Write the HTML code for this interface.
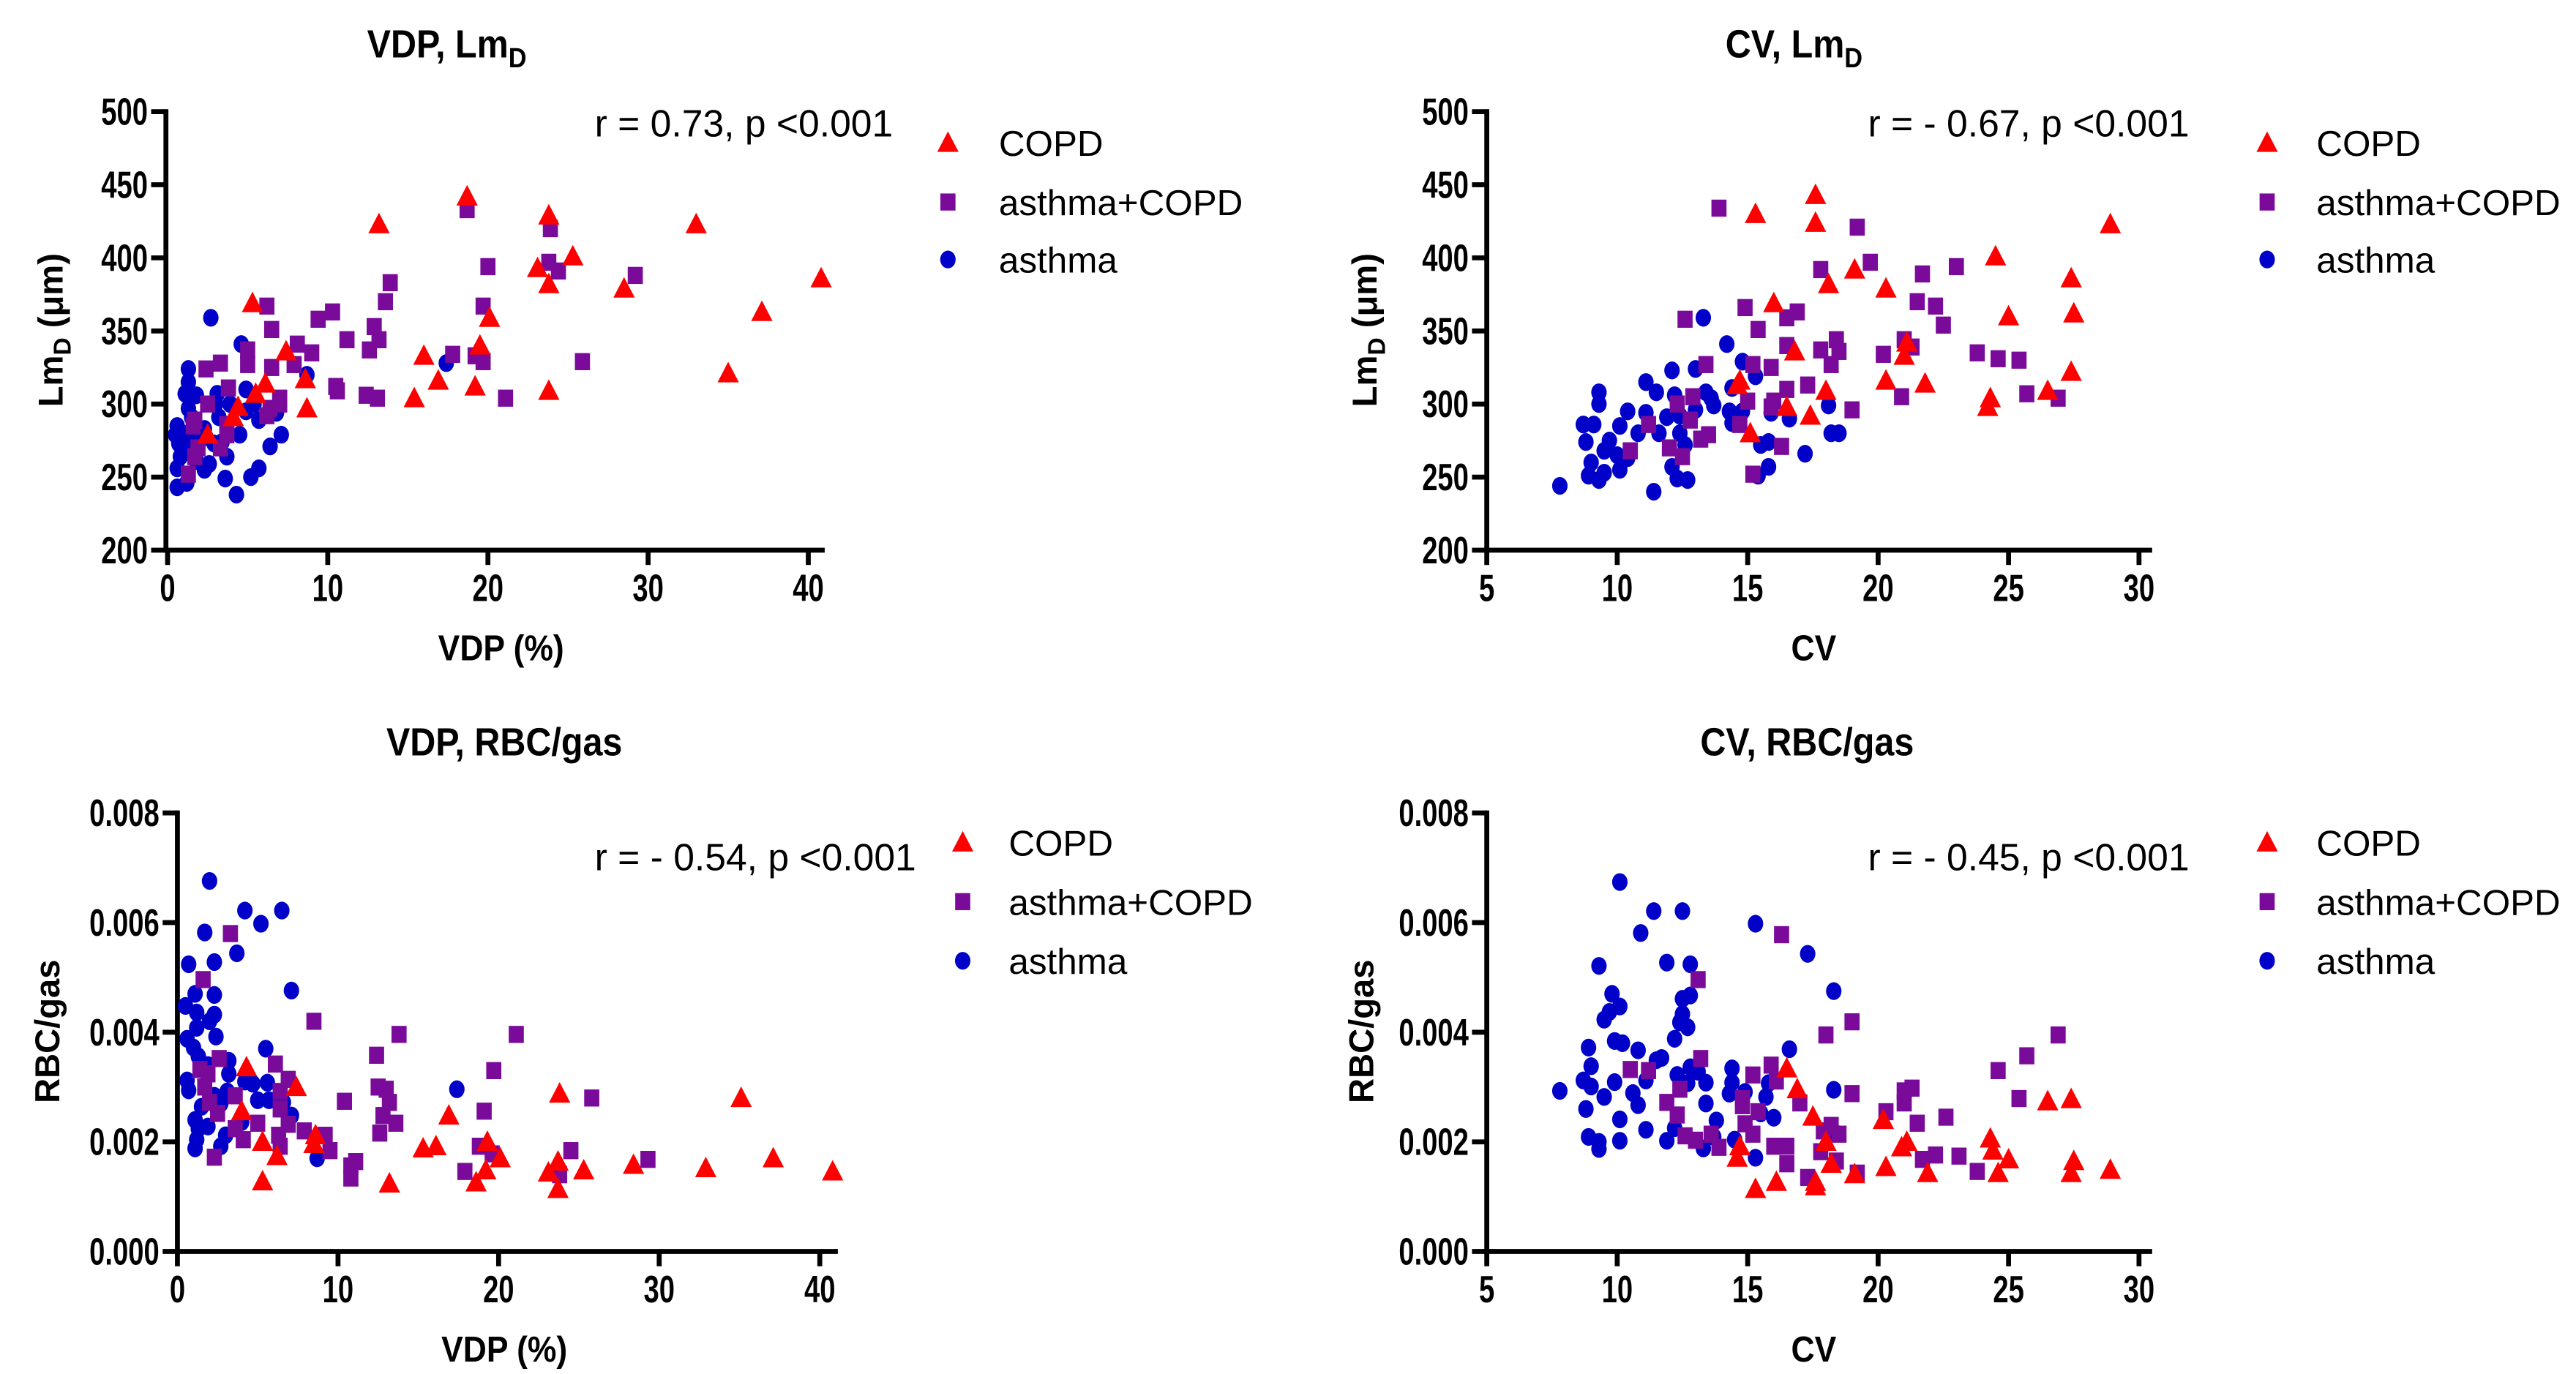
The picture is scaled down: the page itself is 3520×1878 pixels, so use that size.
<!DOCTYPE html>
<html><head><meta charset="utf-8"><style>
html,body{margin:0;padding:0;background:#fff}
svg{display:block}
text{font-family:"Liberation Sans",sans-serif}
</style></head><body>
<svg id="fig" width="3520" height="1878" viewBox="0 0 1568 836.6" preserveAspectRatio="none" xmlns="http://www.w3.org/2000/svg"></svg>
<script>
// ---------- DATA ----------
const p1CopdX=[18.7,23.8,13.2,33,25.3,23.1,23.8,40.8,28.5,37.1,5.3,20.1,19.5,7.4,16,16.9,8.6,35,19.2,6.1,23.8,15.4,5.5,8.7,4.4,4.1,2.5];
const p1CopdY=[442,429,423,423,401,393,382,386,379,363,369,359,340,336,333,316,317,321,312,314,309,304,307,297,298,291,279];
const p1MixX=[18.7,23.9,23.8,24.4,20,29.2,13.9,13.6,19.7,6.2,10.3,9.4,6.5,12.9,13.2,11.2,8.1,9,5,17.8,19.2,19.7,25.9,5,6.5,7.9,3.3,2.4,12.6,10.5,10.6,12.4,13.1,21.1,7,7,6.4,6.2,3.8,2.5,1.7,1.6,1.9,3.3,1.7,1.3,3.7,3.7];
const p1MixY=[433,420,397,391,394,388,383,370,367,367,363,358,351,353,344,344,341,335,337,334,333,329,329,327,325,327,328,324,337,312,309,306,304,304,304,300,297,292,311,300,289,285,270,270,264,252,279,286];
const p1AsX=[2.7,4.6,17.4,8.7,1.3,1.3,1.1,1.8,3.1,4.9,3.9,4.9,5.7,6.8,4.5,7.1,6.4,0.6,0.5,0.7,1.1,0.6,0.6,1.2,2.3,2.6,3.6,4.3,5.2,5.7,3.7,1.8,2.1,2.9,1.3,1.5,2.3,0.9,3.2,3,5.4,1.3,1.7,0.8,3.4];
const p1AsY=[359,341,328,320,324,315,307,306,307,310,300,295,289,294,279,279,271,285,279,273,267,256,243,246,255,259,249,238,250,256,264,261,276,273,297,291,283,276,291,300,300,280,276,264,274];
const p2CopdX=[17.6,15.3,17.6,28.9,24.5,19.1,27.4,18.1,20.3,16,27.5,25,16.8,21.1,21,27.4,20.3,14.7,21.8,18,24.3,24.2,16.5,26.5,17.4,15.1,14.6];
const p2CopdY=[443,430,424,423,401,392,386,382,379,369,362,360,336,342,333,322,316,316,314,309,304,298,298,309,292,280,313];
const p2MixX=[13.9,19.2,19.7,23,17.8,21.7,21.5,22.2,14.9,16.9,16.5,12.6,22.5,15.4,16.5,18.4,21,21.3,17.8,18.5,20.2,23.8,24.6,25.4,13.4,15.2,15.9,18.2,17.3,16.5,20.9,25.7,26.9,12.9,12.3,15,16,15.9,19,12.8,11.2,14.7,13.5,13.2,12,16.3,10.5,12.5,15.2];
const p2MixY=[434,421,397,394,392,389,370,367,366,363,359,358,354,351,340,344,344,339,337,336,334,335,331,330,327,327,325,327,313,310,305,307,304,305,300,302,302,298,296,289,286,286,279,276,270,271,268,264,252];
const p2AsX=[13.3,14.2,14.8,12.1,13,15.3,11.1,11.5,9.3,9.3,12.2,13.4,13.6,13.7,14.4,14.3,14.8,13,10.4,11.1,11.9,12.4,15.9,16.6,18.1,8.7,9.1,10.1,14.4,10.8,11.6,12.4,9.7,8.8,9.5,10,10.4,12.6,15.5,15.8,18.2,18.5,17.2,9,8.9,9.3,9.5,10.1,12.1,12.3,12.7,15.8,15.4,7.8,11.4];
const p2AsY=[359,341,329,323,324,319,315,308,308,300,306,308,304,299,311,295,295,296,295,294,291,292,294,290,299,286,286,285,287,280,280,280,275,274,268,265,263,272,272,274,280,280,266,260,251,248,253,255,257,249,248,257,251,244,240];
const p3CopdX=[4.3,7.4,23.8,35.1,16.9,4,19.3,16.1,15.3,5.3,8.6,8.5,6.2,20.1,37.1,23.7,28.4,19.2,25.3,32.9,40.8,23.1,5.3,13.2,18.6,23.7];
const p3CopdY=[.00336,.0030,.00288,.0028,.00248,.00256,.0020,.00192,.00188,.0020,.00212,.00196,.00174,.0017,.0017,.00164,.00158,.00148,.00148,.00152,.00146,.00144,.00128,.00124,.00126,.00114];
const p3MixX=[3.3,1.6,8.5,13.8,21.1,12.4,19.7,6.1,2.6,1.4,1.9,6.9,12.5,13,1.7,6.4,3.6,25.8,10.4,13.2,2,6.4,19.1,12.8,2.5,6.9,13.6,5,3.6,7.9,9.2,12.6,6.3,4.1,18.8,24.5,9.5,6.4,19.6,29.3,11.1,10.8,2.3,17.9,10.8,23.8];
const p3MixY=[.0058,.00496,.0042,.00396,.00396,.00358,.0033,.00342,.00352,.00332,.00324,.00314,.003,.00296,.003,.00292,.00284,.0028,.00274,.00272,.00272,.0026,.00256,.00248,.00252,.00232,.00234,.00234,.00224,.0022,.00212,.00216,.00212,.00204,.00192,.00184,.00184,.00192,.00178,.00168,.00164,.00156,.00172,.00146,.00134,.0014];
const p3AsX=[2,4.2,6.5,5.2,1.7,3.7,2.3,0.7,7.1,1.1,2.3,0.5,1.2,2.3,2,1.2,0.6,2.4,1,5.5,1.3,3.2,1.9,3.2,0.6,4.2,5.6,4.7,17.4,0.7,3.1,2.3,5,5.7,6.6,1.5,2.7,7.1,1.1,4,1.3,3,1.2,2.7,1.1,8.7,1.9];
const p3AsY=[.00676,.00622,.00622,.00598,.00582,.00544,.00528,.00524,.00476,.0047,.00468,.00448,.00436,.00432,.0042,.00408,.00388,.00392,.00372,.0037,.00356,.00348,.0034,.00324,.00312,.0031,.00308,.00306,.00296,.00294,.00292,.00284,.00276,.00276,.00272,.00264,.0027,.00248,.0024,.00236,.00224,.00212,.00204,.00192,.00188,.0017,.00228];
const p4CopdX=[16.5,16.9,26.5,27.4,17.5,20.2,18,24.3,21.1,20.9,14.7,24.4,25,14.6,27.5,18.2,20.3,28.9,24.6,21.9,19.1,27.4,16.1,17.6,15.3,17.6];
const p4CopdY=[.00334,.00296,.00274,.00278,.00246,.0024,.002,.00206,.002,.0019,.00192,.00184,.00168,.00171,.00165,.0016,.00154,.00149,.00143,.00143,.00141,.00143,.00127,.00119,.00114,.00127];
const p4MixX=[16.3,13.1,19,18,26.9,25.7,13.2,10.5,11.2,24.6,15.9,15.2,16.1,12.4,21.3,21,19,25.4,14.8,11.9,21,17,14.8,15.4,12.3,20.3,22.6,21.5,14.9,18.2,17.9,18.5,12.6,13.6,13,15.2,13.9,16,16.5,16.5,17.8,18.4,22.2,23.1,21.7,23.8,17.3,19.2];
const p4MixY=[.00578,.00496,.00419,.00395,.00395,.00357,.00352,.00332,.0033,.0033,.0034,.00322,.00311,.00296,.00298,.00293,.00288,.00279,.00279,.00272,.00271,.00271,.00266,.00255,.00249,.00255,.00245,.00234,.00233,.0023,.0022,.00214,.00211,.00214,.00203,.00214,.0019,.00192,.00192,.0016,.00182,.00165,.00176,.00174,.00168,.00146,.00135,.00143];
const p4AsX=[10.1,11.4,12.5,15.3,10.9,17.3,9.3,11.9,12.8,18.3,9.8,10.1,12.5,12.8,9.7,9.5,12.5,12.4,12.7,12.2,9.9,10.2,8.9,16.6,10.8,11.7,11.5,9,12.8,13.1,14.4,12.3,8.7,9,9.9,11.1,12.7,13.4,14.4,15.8,7.8,9.5,10.6,14.3,14.9,15.7,18.3,10.8,13.4,8.8,15.5,16,10.1,13.8,12.2,11.1,8.9,13.7,10.1,11.9,9.3,9.3,13.3,14.5,15.3,18.4];
const p4AsY=[.00674,.00621,.00621,.00598,.00581,.00543,.00521,.00527,.00524,.00475,.0047,.00447,.00461,.00467,.00437,.00423,.00433,.00418,.00409,.00388,.00384,.0038,.00372,.00369,.00367,.00353,.00349,.00338,.00336,.00328,.00334,.00322,.00312,.00301,.00309,.00312,.00307,.00308,.00308,.00307,.00293,.00282,.00289,.00288,.00291,.00282,.00295,.00267,.0027,.0026,.00252,.00244,.00241,.00239,.00225,.00222,.00209,.00209,.00202,.00202,.002,.00187,.00188,.00204,.00171,.00215];
const lmTicks=[200,250,300,350,400,450,500];
const rbcTicks=[0,0.002,0.004,0.006,0.008];
const vdpTicks=[0,10,20,30,40];
const cvTicks=[5,10,15,20,25,30];
const legendLabels=['COPD','asthma+COPD','asthma'];

// ---------- DRAW ----------
const NS='http://www.w3.org/2000/svg';
const svg=document.getElementById('fig');
const RED='#ff0000',PUR='#7a0b9a',BLU='#0000c8';
function mk(tag,attrs,parent){const e=document.createElementNS(NS,tag);for(const k in attrs)e.setAttribute(k,attrs[k]);(parent||svg).appendChild(e);return e;}

const panels=[
 {id:'vdp-lmd',x0:102,x1:492,xmin:0,xmax:40,xEnd:502,ax:101,yTop:68,yBot:335,ymin:200,ymax:500,xt:vdpTicks,yt:lmTicks,yfmt:v=>String(v),
  title:'VDP, Lm',titleSub:'D',tx:272,ty:35,xlab:'VDP (%)',xlx:305,xly:402,ylab:'Lm',ylabSub:'D',ylabRest:' (μm)',ylx:38,yly:201,
  ann:'r = 0.73, p <0.001',anx:362,any:83,lgx:577,lgt:608,lgy:[87,123,158],
  data:[[p1CopdX,p1CopdY],[p1MixX,p1MixY],[p1AsX,p1AsY]]},
 {id:'cv-lmd',x0:905,x1:1302,xmin:5,xmax:30,xEnd:1310,ax:905,yTop:68,yBot:335,ymin:200,ymax:500,xt:cvTicks,yt:lmTicks,yfmt:v=>String(v),
  title:'CV, Lm',titleSub:'D',tx:1092,ty:35,xlab:'CV',xlx:1104,xly:402,ylab:'Lm',ylabSub:'D',ylabRest:' (μm)',ylx:838,yly:201,
  ann:'r = - 0.67, p <0.001',anx:1137,any:83,lgx:1380,lgt:1410,lgy:[87,123,158],
  data:[[p2CopdX,p2CopdY],[p2MixX,p2MixY],[p2AsX,p2AsY]]},
 {id:'vdp-rbc',x0:108,x1:499,xmin:0,xmax:40,xEnd:510,ax:108,yTop:495,yBot:762,ymin:0,ymax:0.008,xt:vdpTicks,yt:rbcTicks,yfmt:v=>v.toFixed(3),
  title:'VDP, RBC/gas',titleSub:'',tx:307,ty:460,xlab:'VDP (%)',xlx:307,xly:829,ylab:'RBC/gas',ylabSub:'',ylabRest:'',ylx:36,yly:628,
  ann:'r = - 0.54, p <0.001',anx:362,any:530,lgx:586,lgt:614,lgy:[513,549,585],
  data:[[p3CopdX,p3CopdY],[p3MixX,p3MixY],[p3AsX,p3AsY]]},
 {id:'cv-rbc',x0:905,x1:1302,xmin:5,xmax:30,xEnd:1310,ax:905,yTop:495,yBot:762,ymin:0,ymax:0.008,xt:cvTicks,yt:rbcTicks,yfmt:v=>v.toFixed(3),
  title:'CV, RBC/gas',titleSub:'',tx:1100,ty:460,xlab:'CV',xlx:1104,xly:829,ylab:'RBC/gas',ylabSub:'',ylabRest:'',ylx:836,yly:628,
  ann:'r = - 0.45, p <0.001',anx:1137,any:530,lgx:1380,lgt:1410,lgy:[513,549,585],
  data:[[p4CopdX,p4CopdY],[p4MixX,p4MixY],[p4AsX,p4AsY]]}
];

function marker(kind,cx,cy,parent){
  let e;
  if(kind===0){e=mk('polygon',{points:`${cx},${cy-7} ${cx+6.5},${cy+5.5} ${cx-6.5},${cy+5.5}`,fill:RED},parent);}
  else if(kind===1){e=mk('rect',{x:cx-4.6,y:cy-5.2,width:9.2,height:10.4,fill:PUR},parent);}
  else {e=mk('ellipse',{cx:cx,cy:cy,rx:4.7,ry:5.4,fill:BLU},parent);}
  return e;
}
const kindNames=['copd-point','asthma-copd-point','asthma-point'];
const legendNames=['legend-entry-copd','legend-entry-asthma-copd','legend-entry-asthma'];

panels.forEach(p=>{
  const g=mk('g',{});
  
  
  const sx=v=>p.x0+(v-p.xmin)/(p.xmax-p.xmin)*(p.x1-p.x0);
  const sy=v=>p.yBot-(v-p.ymin)/(p.ymax-p.ymin)*(p.yBot-p.yTop);
  const t=mk('text',{x:p.tx,y:p.ty,'text-anchor':'middle','font-size':24,'font-weight':'bold',fill:'#000',transform:`translate(${p.tx} 0) scale(0.9 1) translate(${-p.tx} 0)`},g);
  
  
  t.textContent=p.title;
  if(p.titleSub){const s=mk('tspan',{'font-size':17,dy:6},t);s.textContent=p.titleSub;}
  const ya=mk('line',{x1:p.ax,y1:p.yTop-1.5,x2:p.ax,y2:p.yBot+1.5,stroke:'#000','stroke-width':3},g);
  
  
  const xa=mk('line',{x1:p.ax-1.5,y1:p.yBot,x2:p.xEnd,y2:p.yBot,stroke:'#000','stroke-width':3},g);
  
  
  p.yt.forEach(v=>{
    const y=sy(v);
    mk('line',{x1:p.ax-9,y1:y,x2:p.ax,y2:y,stroke:'#000','stroke-width':3},g);
    const lb=mk('text',{x:p.ax-11,y:y+8,'text-anchor':'end','font-size':23,'font-weight':'bold',transform:`translate(${p.ax-11} 0) scale(0.74 1) translate(${-(p.ax-11)} 0)`},g);
    
    
    lb.textContent=p.yfmt(v);
  });
  p.xt.forEach(v=>{
    const x=sx(v);
    mk('line',{x1:x,y1:p.yBot,x2:x,y2:p.yBot+9,stroke:'#000','stroke-width':3},g);
    const lb=mk('text',{x:x,y:p.yBot+31,'text-anchor':'middle','font-size':23,'font-weight':'bold',transform:`translate(${x} 0) scale(0.74 1) translate(${-x} 0)`},g);
    
    
    lb.textContent=String(v);
  });
  const xl=mk('text',{x:p.xlx,y:p.xly,'text-anchor':'middle','font-size':22,'font-weight':'bold',transform:`translate(${p.xlx} 0) scale(0.9 1) translate(${-p.xlx} 0)`},g);
  
  
  xl.textContent=p.xlab;
  const yl=mk('text',{x:p.ylx,y:p.yly,'text-anchor':'middle','font-size':21,'font-weight':'bold',transform:`rotate(-90 ${p.ylx} ${p.yly})`},g);
  
  
  yl.textContent=p.ylab;
  if(p.ylabSub){const s=mk('tspan',{'font-size':15,dy:5},yl);s.textContent=p.ylabSub;const r=mk('tspan',{dy:-5},yl);r.textContent=p.ylabRest;}
  const an=mk('text',{x:p.anx,y:p.any,'font-size':23,transform:`translate(${p.anx} 0) scale(1.0 1) translate(${-p.anx} 0)`},g);
  
  
  an.textContent=p.ann;
  legendLabels.forEach((lab,i)=>{
    const lg=mk('g',{},g);
    
    
    marker(i,p.lgx,p.lgy[i],lg);
    const lt=mk('text',{x:p.lgt,y:p.lgy[i]+8,'font-size':22},lg);
    lt.textContent=lab;
  });
  [2,1,0].forEach(k=>{
    const [xs,ys]=p.data[k];
    xs.forEach((xv,i)=>{
      const m=marker(k,sx(xv),sy(ys[i]),g);
      
      
    });
  });
});
</script>
</body></html>
